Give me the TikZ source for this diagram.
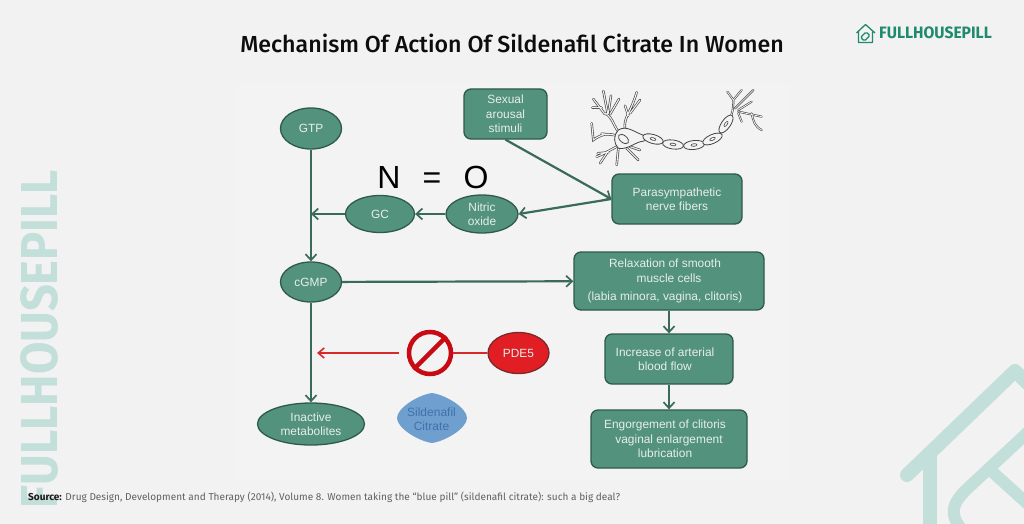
\documentclass[tikz,border=0pt]{standalone}
\usepackage{fontspec}
\setmainfont{Liberation Sans}
\newfontfamily\titlefont{Fira Sans}
\newfontfamily\headfont{Fira Sans Medium}
\usetikzlibrary{arrows.meta}
\usetikzlibrary{shapes.geometric}
\definecolor{pagebg}{HTML}{F2F2F2}
\definecolor{panelbg}{HTML}{F3F3F3}
\definecolor{boxfill}{HTML}{53927C}
\definecolor{boxline}{HTML}{2E5A4D}
\definecolor{boxtext}{HTML}{E6EFEB}
\definecolor{wireline}{HTML}{3A6A5C}
\definecolor{mark}{HTML}{C3DFD9}
\definecolor{logogreen}{HTML}{1F8A6C}
\definecolor{stopred}{HTML}{C80A14}
\definecolor{wirered}{HTML}{D8282C}
\definecolor{pdefill}{HTML}{E01E24}
\definecolor{pdeline}{HTML}{7A2A2A}
\definecolor{pillfill}{HTML}{6F9FCF}
\definecolor{pilltext}{HTML}{3F72AE}
\definecolor{nerveline}{HTML}{444444}
\tikzset{label text/.style = {text = boxtext, align = center, font = \fontsize{11.9}{14.3}\selectfont}}
\tikzset{rbox/.style = {label text, draw = boxline, fill = boxfill, line width = 1.3pt, rounded corners = 7pt, inner sep = 0}}
\tikzset{oval/.style = {label text, ellipse, draw = boxline, fill = boxfill, line width = 1.3pt, inner sep = 0}}
\tikzset{wire/.style = {draw = wireline, line width = 2.2pt, -{Straight Barb[length = 6pt, width = 11pt, line width = 1.7pt]}}}
\tikzset{redwire/.style = {draw = wirered, line width = 1.7pt, -{Straight Barb[length = 6pt, width = 10pt, line width = 1.6pt]}}}
\tikzset{house/.style = {draw = mark, line width = 14pt, line cap = round, line join = round}}
\def\nudge{\hspace*{8pt}}
\def\nerveleft{(108,150) .. controls (85,125) and (85,100) .. (62,85) (60,88) -- (25,42) (50,68) -- (22,68)
  (68,85) -- (55,18) (70,85) -- (78,32) (75,88) -- (102,42) (120,135) .. controls (115,95) and (135,90) .. (155,22)
  (130,92) -- (120,62) (135,85) -- (165,45) (100,155) .. controls (70,140) and (45,150) .. (25,165) -- (20,115)
  (50,146) -- (85,150) (95,185) .. controls (75,195) and (60,205) .. (35,215) (65,205) -- (45,235)
  (70,202) -- (38,205) (100,190) -- (95,240) (125,190) -- (160,225) (135,185) -- (165,195)}
\def\nerveright{(178,105) .. controls (188,85) and (190,70) .. (190,45) (190,45) -- (172,20) (190,45) -- (215,15)
  (195,70) -- (250,15) (205,75) -- (245,50) (205,80) -- (275,95) (245,85) .. controls (250,110) and (255,125) .. (275,135)
  (205,85) -- (215,110)}
\begin{document}
\begin{tikzpicture}[x = 1pt, y = -1pt]
  \useasboundingbox [fill = pagebg] (0, 0) rectangle (1024, 524);
  \fill [panelbg] (235, 85) rectangle (790, 481);

  \node (title) at (512, 43.5) [font = \headfont\fontsize{23.2}{26}\selectfont, text = black!95] {Mechanism Of Action Of Sildenafil Citrate In Women};

  % watermark
  \node (side) at (39, 339) [rotate = 90, font = \titlefont\bfseries\fontsize{52}{52}\selectfont, text = mark, xscale = 0.905, transform shape] {FULLHOUSEPILL};
  \begin{scope}
    \clip (0, 0) rectangle (1024, 524);
    \draw [house] (907, 475) -- (1015, 371) -- (1050, 405);
    \draw [house, line cap = butt] (930, 455) -- (930, 530);
    \draw [house, line width = 12pt] (1040, 421) -- (968, 488) .. controls (950, 505) and (950, 515) .. (962, 530);
    \draw [house, line width = 12pt, line cap = butt] (988, 468) -- (1040, 515);
  \end{scope}

  % logo
  \draw [logogreen, line width = 1.3pt, line join = round] (856.5, 33) -- (865.5, 24.5) -- (875, 33) (858.5, 32) -- (858.5, 42.5) -- (872.5, 42.5) -- (872.5, 32);
  \draw [logogreen, line width = 1.3pt, rounded corners = 1.5pt] (860.5, 37.5) -- (866, 32) -- (870, 35.5) -- (864.5, 41) -- cycle;
  \node (logo) at (935.5, 33) [font = \titlefont\bfseries\fontsize{16.5}{18}\selectfont, text = logogreen, xscale = 0.95, transform shape] {FULLHOUSEPILL};

  % boxes
  \node (gtp) at (311, 128.5) [oval, minimum width = 61, minimum height = 41] {GTP};
  \node (gc) at (380, 214) [oval, minimum width = 69, minimum height = 37] {GC};
  \node (no) at (482, 214) [oval, minimum width = 72, minimum height = 38] {Nitric\\oxide};
  \node (cgmp) at (311, 282) [oval, minimum width = 61, minimum height = 40] {cGMP};
  \node (inactive) at (311, 424) [oval, minimum width = 107, minimum height = 42] {Inactive\\metabolites};
  \node (pde) at (518.5, 353) [oval, minimum width = 61, minimum height = 41, fill = pdefill, draw = pdeline] {PDE5};

  \node (sexual) at (505.5, 114) [rbox, minimum width = 83, minimum height = 50] {Sexual\\arousal\\stimuli};
  \node (para) at (677, 199) [rbox, minimum width = 130, minimum height = 50] {Parasympathetic\\nerve fibers};
  \node (relax) at (669, 281) [rbox, minimum width = 190, minimum height = 58] {Relaxation of smooth\nudge\\muscle cells\nudge\\[4pt](labia minora, vagina, clitoris)\nudge};
  \node (rise) at (669, 359) [rbox, minimum width = 128, minimum height = 50] {Increase of arterial\nudge\\blood flow\nudge};
  \node (swell) at (669, 439) [rbox, minimum width = 156, minimum height = 58] {Engorgement of clitoris\nudge\\vaginal enlargement\nudge\\lubrication\nudge};

  \node (atomn) at (389, 177) [font = \fontsize{32}{32}\selectfont] {N};
  \node (equal) at (432, 181) [font = \fontsize{32}{32}\selectfont] {=};
  \node (atomo) at (476, 177) [font = \fontsize{32}{32}\selectfont] {O};

  % connectors
  \coordinate (gcend) at (311, 214);
  \coordinate (blockend) at (317, 353);
  \draw [wire] (gtp) -- (cgmp);
  \draw [wire] (cgmp) -- (inactive);
  \draw [wire] (gc) -- (gcend);
  \draw [wire] (no) -- (gc);
  \draw [wire] (sexual.south) -- (para.west);
  \draw [wire] (para.west) -- (no.east);
  \draw [wire] (cgmp) -- (relax);
  \draw [wire] (relax) -- (rise);
  \draw [wire] (rise) -- (swell);

  \node (stop) at (430, 353) [circle, draw = stopred, line width = 4.5pt, minimum size = 42, inner sep = 0] {};
  \draw [stopred, line width = 4.5pt] (stop.45) -- (stop.225);
  \draw [draw = wirered, line width = 1.7pt] (pde) -- (stop);
  \coordinate (blockstart) at (399, 353);
  \draw [redwire] (blockstart) -- (blockend);

  % pill
  \fill [pillfill] (432, 393) .. controls (446, 395) and (467, 408) .. (467, 418) .. controls (467, 428) and (446, 441) .. (432, 443) .. controls (418, 441) and (397, 428) .. (397, 418) .. controls (397, 408) and (418, 395) .. (432, 393) -- cycle;
  \node (pill) at (431.5, 419) [align = center, text = pilltext, font = \fontsize{12}{14.5}\selectfont] {Sildenafil\\Citrate};

  % nerve
  \begin{scope}[shift = {(585, 85)}, x = 0.3333pt, y = -0.3333pt]
    \draw [nerveline, line width = 2.4pt, line cap = round] \nerveleft;
    \draw [panelbg, line width = 1.1pt, line cap = round] \nerveleft;
    \draw [nerveline, line width = 0.8pt, fill = panelbg] (100, 135) .. controls (125, 120) and (145, 140) .. (178, 152) -- (178, 168) .. controls (150, 170) and (130, 195) .. (100, 190) .. controls (85, 175) and (85, 150) .. (100, 135) -- cycle;
  \end{scope}
  \begin{scope}[shift = {(670, 85)}, x = 0.3333pt, y = -0.3333pt]
    \draw [nerveline, line width = 2pt, line cap = round] \nerveright;
    \draw [panelbg, line width = 0.8pt, line cap = round] \nerveright;
  \end{scope}
  \draw [nerveline, line width = 0.8pt, rotate around = {-40:(623.5, 139)}] (623.5, 139) circle [x radius = 6, y radius = 3.5];
  \foreach \px/\py/\ang in {653/139/-16, 673/144.5/-8, 694/145/6, 712.5/139/24, 726/124/55}
    {
      \draw [nerveline, line width = 0.8pt, fill = panelbg, rotate around = {\ang:(\px, \py)}] (\px, \py) circle [x radius = 10.5, y radius = 4.5];
      \draw [nerveline, line width = 0.6pt, rotate around = {\ang:(\px, \py)}] (\px, \py) circle [x radius = 3, y radius = 1.3];
    }

  \node (source) at (28, 497.5) [anchor = west, inner sep = 0, font = \titlefont\fontsize{10.05}{11}\selectfont, text = black!62] {\textcolor{black!90}{\bfseries Source:} Drug Design, Development and Therapy (2014), Volume 8. Women taking the “blue pill” (sildenafil citrate): such a big deal?};
\end{tikzpicture}
\end{document}
